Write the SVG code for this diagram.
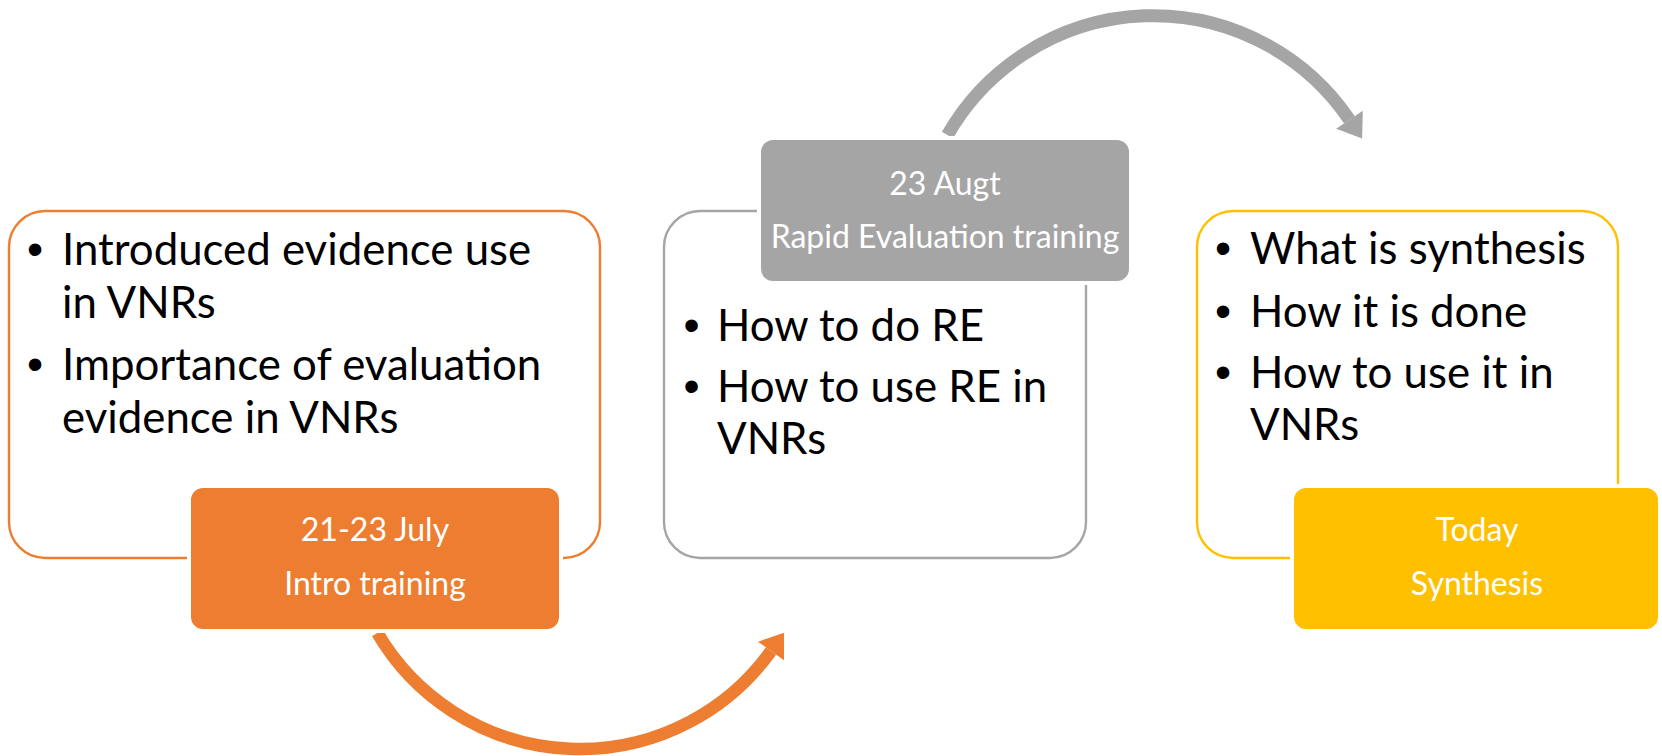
<svg xmlns="http://www.w3.org/2000/svg" width="1662" height="756" viewBox="0 0 1662 756">
<style>
.bg{fill:#FFFFFF}
.ol{fill:#FFFFFF;stroke-width:2.4}
.fb{stroke:#FFFFFF;stroke-width:4}
.bt{font-family:Lato,"Open Sans",sans-serif;font-size:43.8px;fill:#000000}
.bu{font-family:"Liberation Sans",Arial,sans-serif;font-size:46px;fill:#000000;text-anchor:middle}
.ht{font-family:Lato,"Open Sans",sans-serif;font-size:32px;fill:#FFFFFF;text-anchor:middle}
.orange{stroke:#ED7D31}
.gray{stroke:#A5A5A5}
.gold{stroke:#FFC000}
</style>
<rect class="bg" x="0" y="0" width="1662" height="756"/>
<g id="connectors">
  <path d="M 377.4 633 A 235 235 0 0 0 771 651" fill="none" stroke="#ED7D31" stroke-width="12.5"/>
  <polygon points="784.1,632.7 784,660.3 758,641.7" fill="#ED7D31"/>
  <path d="M 947.5 135 A 237 237 0 0 1 1349.5 119.8" fill="none" stroke="#A5A5A5" stroke-width="13"/>
  <polygon points="1362.1,138.5 1362.8,110.8 1336.2,128.8" fill="#A5A5A5"/>
</g>
<g id="node1">
  <rect class="ol orange" x="9" y="211" width="591" height="347" rx="36"/>
  <text class="bu" x="35" y="265">•</text>
  <text class="bt" x="62" y="265">Introduced evidence use</text>
  <text class="bt" x="62" y="318">in VNRs</text>
  <text class="bu" x="35" y="380">•</text>
  <text class="bt" x="62" y="380">Importance of evaluation</text>
  <text class="bt" x="62" y="433">evidence in VNRs</text>
</g>
<g id="node1-label">
  <rect class="fb" x="189" y="486" width="372" height="145" rx="14" fill="#ED7D31"/>
  <text class="ht" x="375" y="541">21-23 July</text>
  <text class="ht" x="375" y="595">Intro training</text>
</g>
<g id="node2">
  <rect class="ol gray" x="664" y="211" width="422" height="347" rx="36"/>
  <text class="bu" x="691.5" y="341">•</text>
  <text class="bt" x="717" y="341">How to do RE</text>
  <text class="bu" x="691.5" y="402">•</text>
  <text class="bt" x="717" y="402">How to use RE in</text>
  <text class="bt" x="717" y="454">VNRs</text>
</g>
<g id="node2-label">
  <rect class="fb" x="759" y="138" width="372" height="145" rx="14" fill="#A5A5A5"/>
  <text class="ht" x="945" y="195">23 Augt</text>
  <text class="ht" x="945" y="248">Rapid Evaluation training</text>
</g>
<g id="node3">
  <rect class="ol gold" x="1197" y="211" width="421" height="347" rx="36"/>
  <text class="bu" x="1223" y="264">•</text>
  <text class="bt" x="1250" y="264">What is synthesis</text>
  <text class="bu" x="1223" y="327">•</text>
  <text class="bt" x="1250" y="327">How it is done</text>
  <text class="bu" x="1223" y="388">•</text>
  <text class="bt" x="1250" y="388">How to use it in</text>
  <text class="bt" x="1250" y="440">VNRs</text>
</g>
<g id="node3-label">
  <rect class="fb" x="1292" y="486" width="368" height="145" rx="14" fill="#FFC000"/>
  <text class="ht" x="1477" y="541">Today</text>
  <text class="ht" x="1477" y="595">Synthesis</text>
</g>
</svg>
